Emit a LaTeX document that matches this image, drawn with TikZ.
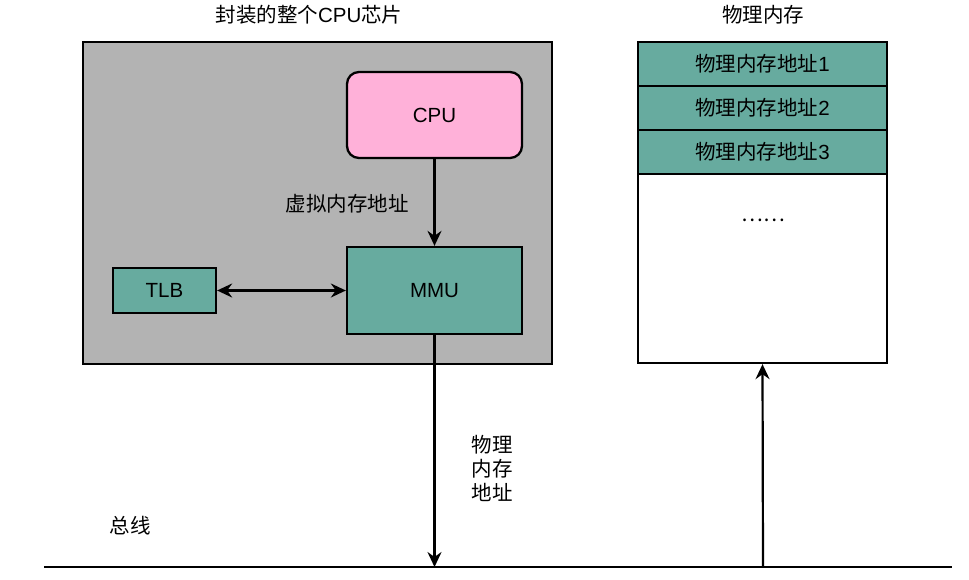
\documentclass[tikz,border=0pt]{standalone}
\usepackage{fontspec}
\setmainfont{Noto Sans CJK SC}
\newfontfamily\lat{Liberation Sans}
\usetikzlibrary{arrows.meta}
\definecolor{graybg}{HTML}{B3B3B3}
\definecolor{tealbox}{HTML}{67AB9F}
\definecolor{pinkbox}{HTML}{FFB1D9}
\begin{document}
\begin{tikzpicture}[x=1pt,y=-1pt,
  font=\fontsize{20.5}{24}\selectfont,
  box/.style={draw, line width=2.3pt, inner sep=0pt},
  arr/.style={line width=2.2pt, -{Stealth[length=15pt,width=14pt,inset=5pt]}},
  darr/.style={line width=2.2pt, {Stealth[length=15pt,width=14pt,inset=5pt]}-{Stealth[length=15pt,width=14pt,inset=5pt]}},
  lbl/.style={inner sep=0pt}]
\useasboundingbox (0,0) rectangle (969,579);
% titles
\node[lbl] (t1) at (309,15) {封装的整个{\lat CPU}芯片};
\node[lbl] (t2) at (763,15) {物理内存};
% chip
\node[box, fill=graybg, minimum width=469pt, minimum height=322pt] (chip) at (317.5,203) {};
\node[box, fill=pinkbox, rounded corners=12pt, minimum width=175pt, minimum height=86pt, font=\lat\fontsize{20.5}{24}\selectfont] (cpu) at (434.5,115) {CPU};
\node[box, fill=tealbox, minimum width=175pt, minimum height=87pt, font=\lat\fontsize{20.5}{24}\selectfont] (mmu) at (434.5,290.5) {MMU};
\node[box, fill=tealbox, minimum width=103pt, minimum height=45pt, font=\lat\fontsize{20.5}{24}\selectfont] (tlb) at (164.5,290.5) {TLB};
\node[lbl] (vlabel) at (347,204) {虚拟内存地址};
% memory
\node[box, fill=white, minimum width=249pt, minimum height=321pt] (mem) at (762.5,202.5) {};
\node[box, fill=tealbox, minimum width=249pt, minimum height=44pt] (r1) at (762.5,64) {物理内存地址{\lat 1}};
\node[box, fill=tealbox, minimum width=249pt, minimum height=44pt] (r2) at (762.5,108) {物理内存地址{\lat 2}};
\node[box, fill=tealbox, minimum width=249pt, minimum height=44pt] (r3) at (762.5,152) {物理内存地址{\lat 3}};
\node[lbl] (dots) at (763,220) {……};
% bus
\coordinate (busL) at (44,567);
\coordinate (busR) at (952,567);
\coordinate (b1) at (434.5,567);
\coordinate (b2) at (763,567);
\draw[line width=2.5pt] (busL) -- (busR);
\node[lbl] (bus) at (130,526) {总线};
\node[lbl, align=center] (plabel) at (492,468) {物理\\内存\\地址};
% connectors
\draw[arr] (cpu.south) -- (mmu.north);
\draw[darr] (tlb.east) -- (mmu.west);
\draw[arr] (mmu.south) -- (b1);
\draw[arr] (b2) -- (mem.south);
\end{tikzpicture}
\end{document}
